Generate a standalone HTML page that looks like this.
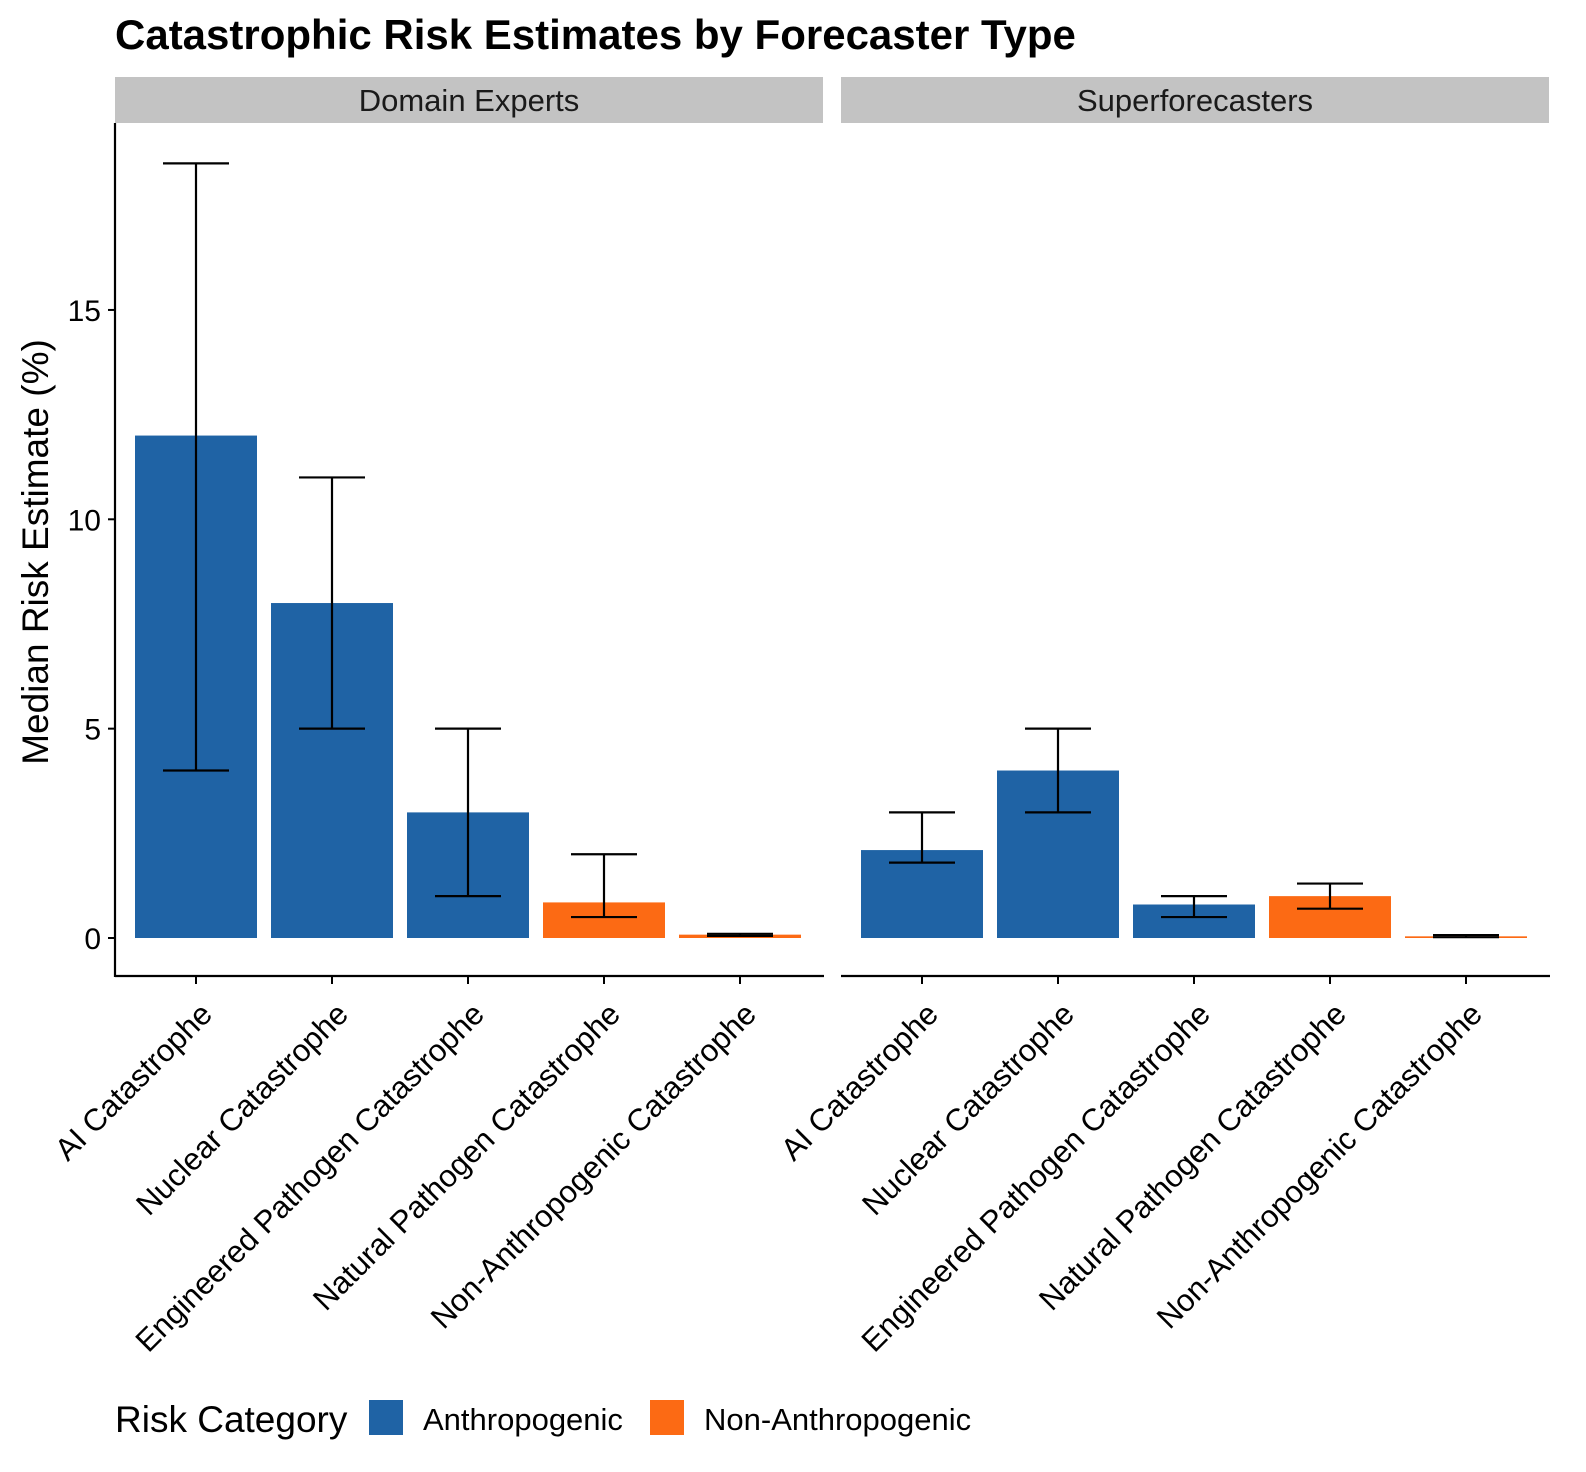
<!DOCTYPE html>
<html><head><meta charset="utf-8"><style>
html,body{margin:0;padding:0;background:#fff;overflow:hidden;width:1586px;height:1472px}
svg{display:block}
svg text{font-family:"Liberation Sans",Arial,sans-serif}
</style></head><body>
<svg id="c" width="1586" height="1472" xmlns="http://www.w3.org/2000/svg">
<rect width="1586" height="1472" fill="#fff"/>
<text x="115" y="49" font-size="42" font-weight="bold" fill="#000">Catastrophic Risk Estimates by Forecaster Type</text>
<text transform="translate(48,552) rotate(-90)" text-anchor="middle" font-size="37" fill="#000">Median Risk Estimate (%)</text>
<g id="plot"></g>
<g>
<text x="115" y="1432" font-size="37" fill="#000">Risk Category</text>
<rect x="369" y="1400" width="34" height="35" fill="#1f63a5"/>
<text x="423" y="1430" font-size="31" fill="#000">Anthropogenic</text>
<rect x="650" y="1400" width="34" height="35" fill="#fc6a14"/>
<text x="704" y="1430" font-size="31" fill="#000">Non-Anthropogenic</text>
</g>
</svg>
<script>
const panels = ["Domain Experts", "Superforecasters"];
const categories = ["AI Catastrophe", "Nuclear Catastrophe", "Engineered Pathogen Catastrophe", "Natural Pathogen Catastrophe", "Non-Anthropogenic Catastrophe"];
const riskType = ["Anthropogenic", "Anthropogenic", "Anthropogenic", "Non-Anthropogenic", "Non-Anthropogenic"];
const expertMedian = [12, 8, 3, 0.85, 0.08];
const expertLow = [4, 5, 1, 0.5, 0.05];
const expertHigh = [18.5, 11, 5, 2, 0.1];
const superMedian = [2.1, 4, 0.8, 1, 0.04];
const superLow = [1.8, 3, 0.5, 0.7, 0.02];
const superHigh = [3, 5, 1, 1.3, 0.07];
const yTicks = [0, 5, 10, 15];

const NS = "http://www.w3.org/2000/svg";
const g = document.getElementById("plot");
const y0 = 938, pxPerUnit = 41.87;
const yScale = v => y0 - v * pxPerUnit;
const panelX = [115, 841], panelW = 708, step = 136, barW = 122;
const xScale = (p, i) => panelX[p] + 81 + i * step;
const colors = {"Anthropogenic": "#1f63a5", "Non-Anthropogenic": "#fc6a14"};
function mk(tag, attrs, parent) {
  const e = document.createElementNS(NS, tag);
  for (const k in attrs) e.setAttribute(k, attrs[k]);
  (parent || g).appendChild(e);
  return e;
}
const med = [expertMedian, superMedian], lo = [expertLow, superLow], hi = [expertHigh, superHigh];
panels.forEach((pn, p) => {
  const px = panelX[p];
  const strip = mk("rect", {x: px, y: 77, width: panelW, height: 46, fill: "#c3c3c3"});
  
  
  const st = mk("text", {x: px + panelW / 2, y: 111, "text-anchor": "middle", "font-size": 31, fill: "#1a1a1a"});
  st.textContent = pn;
  
  
  categories.forEach((c, i) => {
    const cx = xScale(p, i);
    const bar = mk("rect", {x: cx - barW / 2, y: yScale(med[p][i]), width: barW, height: yScale(0) - yScale(med[p][i]), fill: colors[riskType[i]]});
    
    
    const eg = mk("g", {stroke: "#000", "stroke-width": 2.2, fill: "none"});
    
    
    mk("line", {x1: cx, x2: cx, y1: yScale(lo[p][i]), y2: yScale(hi[p][i])}, eg);
    mk("line", {x1: cx - 33, x2: cx + 33, y1: yScale(lo[p][i]), y2: yScale(lo[p][i])}, eg);
    mk("line", {x1: cx - 33, x2: cx + 33, y1: yScale(hi[p][i]), y2: yScale(hi[p][i])}, eg);
    mk("line", {x1: cx, x2: cx, y1: 976, y2: 984, stroke: "#000", "stroke-width": 2});
    const t = mk("text", {transform: `translate(${cx + 18},${1016}) rotate(-45)`, "text-anchor": "end", "font-size": 31, fill: "#000"});
    t.textContent = c;
    
    
  });
  const xa = mk("line", {x1: px, x2: px + panelW + 1, y1: 976, y2: 976, stroke: "#000", "stroke-width": 2.2});
  
  
});
const ya = mk("line", {x1: 115, x2: 115, y1: 123, y2: 977, stroke: "#000", "stroke-width": 2.2});


yTicks.forEach(v => {
  mk("line", {x1: 108, x2: 115, y1: yScale(v), y2: yScale(v), stroke: "#000", "stroke-width": 2});
  const t = mk("text", {x: 101, y: yScale(v) + 11, "text-anchor": "end", "font-size": 30, fill: "#000"});
  t.textContent = v;
  
  
});
</script>
</body></html>
